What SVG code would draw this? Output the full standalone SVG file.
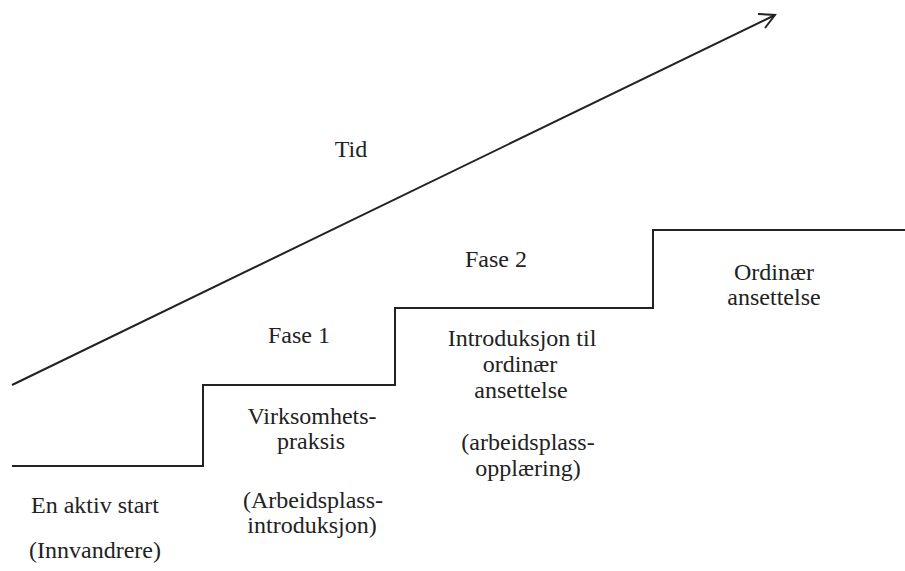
<svg xmlns="http://www.w3.org/2000/svg" width="905" height="571" viewBox="0 0 905 571">
<style>
.t{font-family:"Liberation Serif","Times New Roman",serif;font-size:24px;fill:#222;text-anchor:middle}
.ln{fill:none;stroke:#222;stroke-width:2}
</style>
<rect width="905" height="571" fill="#fff"/>
<g id="connectors">
<polyline class="ln" points="12,466 203,466 203,385 395,385 395,308 653,308 653,230 905,230"/>
<line class="ln" x1="12" y1="385" x2="775" y2="15"/>
<polyline class="ln" points="758,14 775,15 765,28"/>
</g>
<g id="tid"><text class="t" x="351" y="157">Tid</text></g>
<g id="start">
<text class="t" x="95" y="513">En aktiv start</text>
<text class="t" x="95" y="558">(Innvandrere)</text>
</g>
<g id="fase1">
<text class="t" x="299" y="343">Fase 1</text>
<text class="t" x="312" y="424">Virksomhets-</text>
<text class="t" x="311" y="449">praksis</text>
<text class="t" x="313" y="508">(Arbeidsplass-</text>
<text class="t" x="312" y="533">introduksjon)</text>
</g>
<g id="fase2">
<text class="t" x="496" y="267">Fase 2</text>
<text class="t" x="522" y="346">Introduksjon til</text>
<text class="t" x="520" y="372">ordinær</text>
<text class="t" x="521" y="398">ansettelse</text>
<text class="t" x="528" y="450">(arbeidsplass-</text>
<text class="t" x="528" y="476">opplæring)</text>
</g>
<g id="ordinaer">
<text class="t" x="774" y="280">Ordinær</text>
<text class="t" x="774" y="305">ansettelse</text>
</g>
</svg>
